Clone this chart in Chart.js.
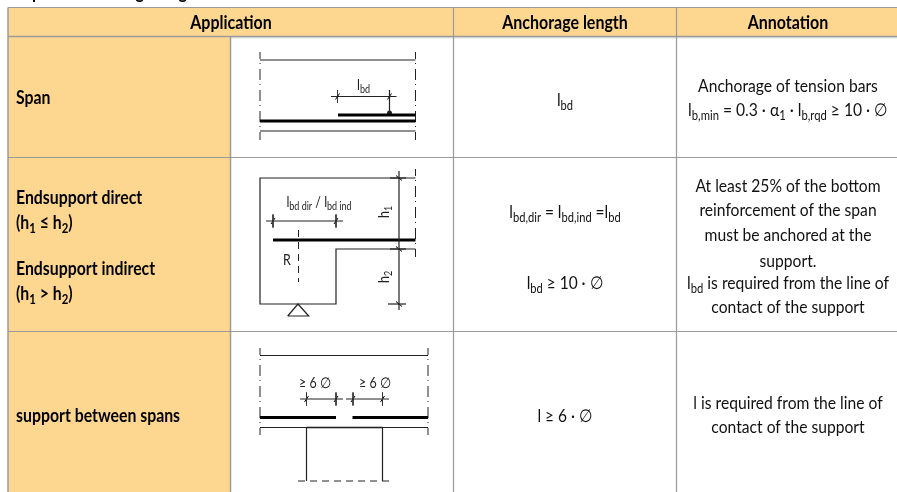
<!DOCTYPE html>
<html><head><meta charset="utf-8">
<style>html,body{margin:0;padding:0;background:#fff}canvas{display:block}</style>
<script src="https://cdn.jsdelivr.net/npm/chart.js@4/dist/chart.umd.min.js"></script>
</head><body><canvas id="c" width="897" height="492"></canvas>
<script>
const titleText = 'Required anchorage length';
const headerLabels = ['Application', 'Anchorage length', 'Annotation'];
const columnEdges = [8, 230.5, 453.5, 676.5];
const rowEdges = [7.5, 36.5, 157.5, 331.5, 492];
const applicationCells = [
  ['Span', 98], ['Endsupport direct', 198], ['(h_{1} ≤ h_{2})', 223],
  ['Endsupport indirect', 269], ['(h_{1} > h_{2})', 294], ['support between spans', 416]
];
const anchorageCells = [
  ['l_{bd}', 100], ['l_{bd,dir} = l_{bd,ind} =l_{bd}', 212], ['l_{bd} ≥ 10 · ∅', 283], ['l ≥ 6 · ∅', 416]
];
const annotationCells = [
  ['Anchorage of tension bars', 86], ['l_{b,min} = 0.3 · α_{1} · l_{b,rqd} ≥ 10 · ∅', 110],
  ['At least 25% of the bottom', 186], ['reinforcement of the span', 210], ['must be anchored at the', 235],
  ['support.', 261], ['l_{bd} is required from the line of', 283], ['contact of the support', 307],
  ['l is required from the line of', 403], ['contact of the support', 427]
];
const diagramLabels = [
  ['l_{bd}', 363.5, 85], ['l_{bd dir} / l_{bd ind}', 319, 202], ['R', 287, 260],
  ['≥ 6 ∅', 315, 383], ['≥ 6 ∅', 375, 383]
];
const rotatedLabels = [['h_{1}', 384, 212], ['h_{2}', 384, 277]];

const thinLines = [
  [[260,60],[415.5,60]], [[260,131],[415.5,131]],
  [[331,96.5],[396.5,96.5]], [[389.5,90],[389.5,113]],
  [[415.5,178],[260,178],[260,304],[336,304],[336,249],[415.5,249]],
  [[399,171],[399,310]], [[390,178],[406,178]], [[390,249],[406,249]], [[388,304],[406,304]],
  [[266,221],[343,221]],
  [[287.7,316],[298,304],[308.7,316],[287.7,316]],
  [[260,355.5],[428,355.5]], [[260,427.5],[428,427.5]],
  [[300,399],[343,399]], [[346,399],[389,399]],
  [[306.5,427.5],[306.5,481]], [[382.5,427.5],[382.5,481]]
];
const thickBars = [
  [[260,121],[415.5,121]], [[338,115],[415.5,115]],
  [[273,240],[415.5,240]],
  [[260,417.5],[336,417.5]], [[352.5,417.5],[428,417.5]]
];
const supportTop = [[306.5,427.5],[382.5,427.5]];
const centreLines = [
  [[260,52],[260,140]], [[415.5,52],[415.5,140]],
  [[415.5,169],[415.5,257]],
  [[260,348],[260,435]], [[428,348],[428,435]]
];
const dashedLines = [[[298.5,230],[298.5,282]], [[298,481],[391,481]]];
const dimensionTicks = [
  [337.5,96.5],[389.5,96.5],[273,221],[336,221],
  [306.5,399],[336,399],[353,399],[382.5,399]
];
const heightTicks = [[399,178],[399,249],[399,304]];
const anchorDots = [[389.5,113]];

const orange = '#FDD690', grid = '#9a9a9a';
const pts = a => a.map(p => ({x: p[0], y: p[1]}));
const line = (a, color, width, extra) => Object.assign({
  data: pts(a), showLine: true, borderColor: color, borderWidth: width,
  pointRadius: 0, tension: 0, fill: false, order: 1, borderCapStyle: 'butt'
}, extra || {});
const block = (x0, x1, y0, y1) => line([[x0,y0],[x1,y0]], 'rgba(0,0,0,0)', 0,
  {fill: {value: y1}, backgroundColor: orange, order: 10});

const datasets = [
  block(columnEdges[0], 897, rowEdges[0], rowEdges[1]),
  block(columnEdges[0], columnEdges[1], rowEdges[1], rowEdges[4]),
  line([[columnEdges[1],37.5],[897,37.5]], '#e4e4e4', 2, {order: 9})
];
rowEdges.slice(0, 4).forEach((y, i) => datasets.push(
  line([[columnEdges[0], y],[897, y]], grid, i === 1 ? 1.5 : 1.2, {order: 5})));
datasets.push(line([[columnEdges[0],rowEdges[0]],[columnEdges[0],rowEdges[4]]], grid, 1.5, {order: 5}));
datasets.push(line([[columnEdges[1],rowEdges[1]],[columnEdges[1],rowEdges[4]]], grid, 1.5, {order: 5}));
datasets.push(line([[columnEdges[2],rowEdges[0]],[columnEdges[2],rowEdges[4]]], grid, 1.2, {order: 5}));
datasets.push(line([[columnEdges[3],rowEdges[0]],[columnEdges[3],rowEdges[4]]], grid, 1.2, {order: 5}));
thinLines.forEach(a => datasets.push(line(a, '#222', 1.2)));
thickBars.forEach(a => datasets.push(line(a, '#000', 2.8)));
datasets.push(line(supportTop, '#000', 1.5));
centreLines.forEach(a => datasets.push(line(a, '#222', 1, {borderDash: [11,4,1,5], borderDashOffset: 4})));
dashedLines.forEach(a => datasets.push(line(a, '#222', 1, {borderDash: [7,5]})));
dimensionTicks.forEach(t => {
  datasets.push(line([[t[0],t[1]-6.5],[t[0],t[1]+6.5]], '#333', 1));
  datasets.push(line([[t[0]-2,t[1]+3],[t[0]+2,t[1]-3]], '#000', 1));
});
heightTicks.forEach(t => datasets.push(line([[t[0]-3,t[1]-2.5],[t[0]+3,t[1]+2.5]], '#000', 1)));
datasets.push(line(anchorDots, '#222', 0, {pointRadius: 2.5, pointBackgroundColor: '#222', showLine: false}));

const FAMILY = 'Lato,"Liberation Sans",sans-serif';
const SQUEEZE = 0.86;
function runs(t) {
  const out = []; const re = /_\{([^}]*)\}/g; let i = 0, m;
  while ((m = re.exec(t))) { if (m.index > i) out.push([t.slice(i, m.index), false]); out.push([m[1], true]); i = re.lastIndex; }
  if (i < t.length) out.push([t.slice(i), false]);
  return out;
}
function drawRich(ctx, t, x, y, size, weight, align, color, squeeze) {
  const sx = squeeze || SQUEEZE;
  const parts = runs(t);
  const f = (sub) => `${weight} ${sub ? size * 0.72 : size}px ${FAMILY}`;
  let w = 0;
  parts.forEach(p => { ctx.font = f(p[1]); w += ctx.measureText(p[0]).width; });
  ctx.save();
  ctx.translate(align === 'center' ? x - w * sx / 2 : x, y);
  ctx.scale(sx, 1);
  let cx = 0;
  ctx.fillStyle = color; ctx.textAlign = 'left'; ctx.textBaseline = 'alphabetic';
  parts.forEach(p => {
    ctx.font = f(p[1]);
    ctx.fillText(p[0], cx, size * 0.35 + (p[1] ? size * 0.18 : 0));
    cx += ctx.measureText(p[0]).width;
  });
  ctx.restore();
}
const textPlugin = { id: 'cellText', afterDatasetsDraw(chart) {
  const ctx = chart.ctx, X = chart.scales.x, Y = chart.scales.y;
  ctx.save();
  drawRich(ctx, titleText, X.getPixelForValue(8), Y.getPixelForValue(-8), 19, 'bold', 'left', '#000');
  const hx = [231, 565, 788];
  headerLabels.forEach((t, i) => drawRich(ctx, t, X.getPixelForValue(hx[i]), Y.getPixelForValue(22), 18.6, 'bold', 'center', '#000'));
  applicationCells.forEach(c => drawRich(ctx, c[0], X.getPixelForValue(16), Y.getPixelForValue(c[1]), 18, 'bold', 'left', '#000', 0.88));
  anchorageCells.forEach(c => drawRich(ctx, c[0], X.getPixelForValue(565), Y.getPixelForValue(c[1]), 18, 'normal', 'center', '#111'));
  annotationCells.forEach(c => drawRich(ctx, c[0], X.getPixelForValue(788), Y.getPixelForValue(c[1]), 18.2, 'normal', 'center', '#111'));
  diagramLabels.forEach(c => drawRich(ctx, c[0], X.getPixelForValue(c[1]), Y.getPixelForValue(c[2]), 14.5, 'normal', 'center', '#222'));
  rotatedLabels.forEach(c => {
    ctx.save();
    ctx.translate(X.getPixelForValue(c[1]), Y.getPixelForValue(c[2]));
    ctx.rotate(-Math.PI / 2);
    drawRich(ctx, c[0], 0, 0, 14.5, 'normal', 'center', '#222');
    ctx.restore();
  });
  ctx.restore();
}};

new Chart(document.getElementById('c'), {
  type: 'scatter',
  data: { datasets },
  plugins: [textPlugin],
  options: {
    responsive: false, animation: false, events: [],
    layout: { padding: 0, autoPadding: false },
    plugins: { legend: { display: false }, tooltip: { enabled: false } },
    scales: {
      x: { type: 'linear', min: 0, max: 897, display: false },
      y: { type: 'linear', min: 0, max: 492, reverse: true, display: false }
    }
  }
});
</script></body></html>
